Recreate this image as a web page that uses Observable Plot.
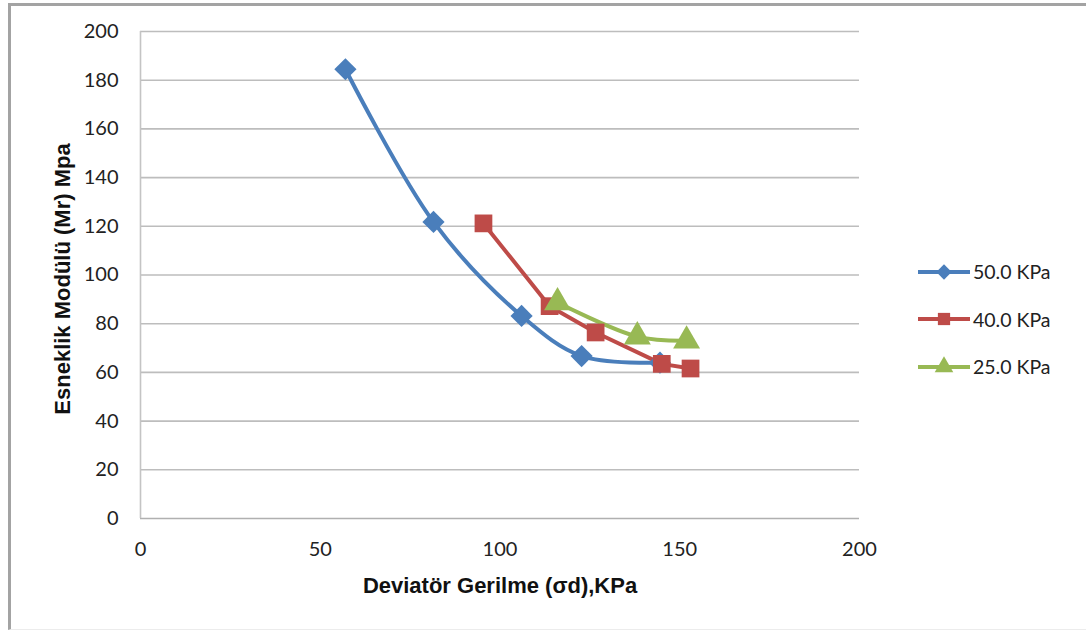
<!DOCTYPE html>
<html>
<head>
<meta charset="utf-8">
<script src="https://cdn.jsdelivr.net/npm/d3@7"></script>
<script src="https://cdn.jsdelivr.net/npm/@observablehq/plot@0.6"></script>
<style>
  html, body { margin: 0; padding: 0; background: #fff; }
  #wrap { position: relative; width: 1086px; height: 635px; overflow: hidden; font-family: Lato, "Liberation Sans", sans-serif; }
  #frame { position: absolute; left: 8px; top: 3px; width: 1080px; height: 627px; border-left: 3px solid #a3a3a3; border-top: 3px solid #a3a3a3; border-bottom: 1px solid #ececec; box-sizing: border-box; pointer-events: none; }
  #chart { position: absolute; left: 0; top: 0; }
  #legend { position: absolute; left: 916px; top: 248px; }
  .item { display: flex; align-items: center; height: 47.5px; font-size: 19.5px; color: #222; }
  .item svg { margin-right: 1px; }
</style>
</head>
<body>
<div id="wrap">
  <div id="chart"></div>
  <div id="frame"></div>
  <div id="legend"></div>
</div>
<script>
// Series data
const seriesNames = ["50.0 KPa", "40.0 KPa", "25.0 KPa"];
const seriesColors = ["#4a7ebb", "#be4b48", "#98b954"];
const seriesSymbols = ["diamond2", "square", "triangle"];
const seriesCurves = ["catmull-rom", "linear", "catmull-rom"];

const x50 = [57, 81.5, 106, 122.7, 144.5];
const y50 = [184.5, 121.8, 83.2, 66.7, 64];

const x40 = [95.4, 113.8, 126.6, 145, 153];
const y40 = [121.2, 87.2, 76.4, 63.5, 61.6];

const x25 = [116, 138.2, 151.9];
const y25 = [88.7, 74.7, 73];

const xTicks = [0, 50, 100, 150, 200];
const yTicks = [0, 20, 40, 60, 80, 100, 120, 140, 160, 180, 200];

const xTitle = "Deviatör Gerilme (σd),KPa";
const yTitle = "Esneklik Modülü (Mr) Mpa";

const toRows = (xs, ys, s) => xs.map((x, i) => ({x, y: ys[i], s}));
const seriesRows = [
  toRows(x50, y50, seriesNames[0]),
  toRows(x40, y40, seriesNames[1]),
  toRows(x25, y25, seriesNames[2])
];
const rows = seriesRows.flat();

const colorScale = {domain: seriesNames, range: seriesColors};
const symbolScale = {domain: seriesNames, range: seriesSymbols};

const chart = Plot.plot({
  width: 1086,
  height: 635,
  marginLeft: 140,
  marginRight: 227,
  marginTop: 31,
  marginBottom: 117,
  style: {fontFamily: "Lato, 'Liberation Sans', sans-serif", fontSize: "20px", color: "#222", background: "transparent"},
  x: {domain: [0, 200], ticks: xTicks},
  y: {domain: [0, 200], ticks: yTicks},
  color: colorScale,
  symbol: symbolScale,
  marks: [
    Plot.ruleY(yTicks.filter(d => d > 0), {stroke: "#bdbdbd", strokeWidth: 1.6}),
    Plot.ruleY([0], {stroke: "#b0b0b0", strokeWidth: 1.6}),
    Plot.ruleX([0], {stroke: "#c4c4c4", strokeWidth: 1.6}),
    Plot.axisX({ticks: xTicks, tickSize: 0, tickPadding: 23, label: null, fill: "#222", fontSize: 20}),
    Plot.axisY({ticks: yTicks, tickSize: 0, tickPadding: 22, label: null, fill: "#222", fontSize: 20}),
    ...seriesRows.map((r, i) => Plot.line(r, {x: "x", y: "y", stroke: "s", strokeWidth: 4, curve: seriesCurves[i]})),
    Plot.dot(rows, {x: "x", y: "y", symbol: "s", fill: "s", stroke: "none", r: 10}),
    Plot.text([xTitle], {frameAnchor: "bottom", dy: 74, text: d => d, textAnchor: "middle", fontWeight: "bold", fontSize: 22, fontFamily: "'Liberation Sans Narrow', 'Liberation Sans', sans-serif", fill: "#111"}),
    Plot.text([yTitle], {frameAnchor: "left", dx: -78, dy: 4, rotate: -90, text: d => d, textAnchor: "middle", fontWeight: "bold", fontSize: 22, fontFamily: "'Liberation Sans Narrow', 'Liberation Sans', sans-serif", fill: "#111"})
  ]
});
document.getElementById("chart").appendChild(chart);

// Legend
const legend = d3.select("#legend");
const symMap = {diamond2: d3.symbolDiamond2, square: d3.symbolSquare, triangle: d3.symbolTriangle};
seriesNames.forEach((name, i) => {
  const item = legend.append("div").attr("class", "item");
  const svg = item.append("svg").attr("width", 56).attr("height", 22);
  svg.append("line").attr("x1", 2).attr("x2", 54).attr("y1", 11).attr("y2", 11)
    .attr("stroke", seriesColors[i]).attr("stroke-width", 4);
  svg.append("path").attr("transform", "translate(28,11)")
    .attr("d", d3.symbol(symMap[seriesSymbols[i]], 150)())
    .attr("fill", seriesColors[i]);
  item.append("span").text(name);
});
</script>
</body>
</html>
